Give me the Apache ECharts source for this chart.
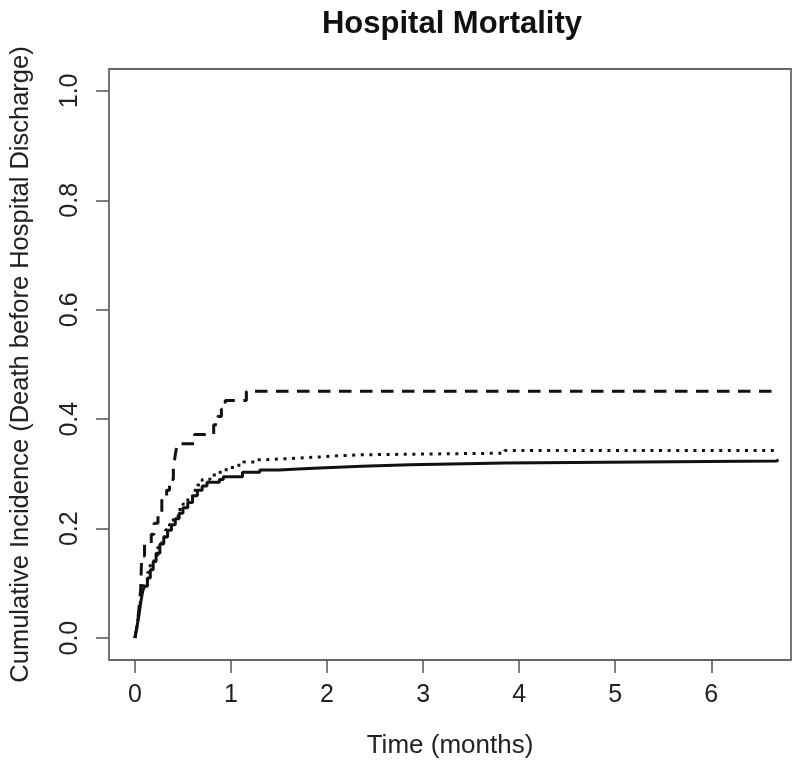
<!DOCTYPE html>
<html>
<head>
<meta charset="utf-8">
<script src="https://cdn.jsdelivr.net/npm/echarts@6/dist/echarts.min.js"></script>
<style>
html,body{margin:0;padding:0;background:#fff;}
#chart{width:800px;height:769px;}
</style>
</head>
<body>
<div id="chart"></div>
<script>
// Data (time in months, cumulative incidence)
var solidTime = [0, 0.02, 0.04, 0.06, 0.08, 0.10, 0.13, 0.16, 0.19, 0.22, 0.26, 0.30, 0.34, 0.38, 0.42, 0.46, 0.50, 0.55, 0.60, 0.65, 0.70, 0.75, 0.88, 0.92, 1.12, 1.30, 1.50, 1.70, 1.92, 2.36, 2.86, 3.85, 6.68, 6.70];
var solidCI   = [0, 0.020, 0.040, 0.065, 0.085, 0.095, 0.110, 0.125, 0.140, 0.155, 0.172, 0.185, 0.197, 0.207, 0.218, 0.228, 0.238, 0.248, 0.260, 0.270, 0.278, 0.285, 0.290, 0.295, 0.303, 0.307, 0.309, 0.311, 0.314, 0.317, 0.320, 0.3235, 0.326, 0.326];

var dottedTime = [0, 0.02, 0.04, 0.06, 0.08, 0.10, 0.13, 0.16, 0.20, 0.24, 0.28, 0.32, 0.36, 0.40, 0.45, 0.50, 0.55, 0.60, 0.65, 0.70, 0.78, 0.85, 0.95, 1.05, 1.13, 1.25, 1.35, 1.60, 1.92, 2.08, 2.36, 2.85, 3.85, 6.68, 6.70];
var dottedCI   = [0, 0.022, 0.045, 0.070, 0.090, 0.103, 0.120, 0.135, 0.152, 0.168, 0.185, 0.198, 0.208, 0.220, 0.235, 0.245, 0.255, 0.270, 0.280, 0.290, 0.298, 0.303, 0.312, 0.316, 0.322, 0.326, 0.328, 0.331, 0.333, 0.335, 0.336, 0.338, 0.343, 0.346, 0.346];

var dashedTime = [0, 0.02, 0.04, 0.06, 0.07, 0.10, 0.17, 0.20, 0.24, 0.28, 0.33, 0.36, 0.40, 0.42, 0.44, 0.62, 0.82, 0.86, 0.90, 0.94, 1.16, 6.70];
var dashedCI   = [0, 0.020, 0.050, 0.090, 0.150, 0.173, 0.190, 0.210, 0.230, 0.255, 0.270, 0.290, 0.310, 0.335, 0.355, 0.372, 0.390, 0.405, 0.418, 0.434, 0.451, 0.451];

var xTicks = [0, 1, 2, 3, 4, 5, 6];
var yTicks = [0, 0.2, 0.4, 0.6, 0.8, 1.0];

function pairs(xs, ys) {
  var out = [];
  for (var i = 0; i < xs.length; i++) out.push([xs[i], ys[i]]);
  return out;
}

var FONT = '"Liberation Sans", Arial, Helvetica, sans-serif';
var chart = echarts.init(document.getElementById('chart'), null, {renderer: 'canvas'});
chart.setOption({
  animation: false,
  backgroundColor: '#ffffff',
  title: {
    text: 'Hospital Mortality',
    left: 447,
    top: 4,
    textAlign: 'center',
    textStyle: {fontFamily: FONT, fontWeight: 'bold', fontSize: 31, color: '#111'}
  },
  grid: {
    left: 108, right: 9, top: 69, bottom: 109,
    show: true, borderColor: '#666', borderWidth: 1.8, backgroundColor: 'transparent'
  },
  xAxis: {
    type: 'value',
    min: -0.27, max: 6.83,
    name: 'Time (months)',
    nameLocation: 'middle',
    nameGap: 73,
    nameTextStyle: {fontFamily: FONT, fontSize: 26, color: '#222'},
    axisLine: {show: false, onZero: false},
    axisTick: {show: true, inside: false, length: 13, customValues: xTicks, lineStyle: {color: '#555', width: 1.5}},
    axisLabel: {show: true, customValues: xTicks, margin: 23, fontFamily: FONT, fontSize: 25, color: '#222',
      formatter: function (v) { return String(v); }},
    splitLine: {show: false}
  },
  yAxis: {
    type: 'value',
    min: -0.04, max: 1.04,
    name: 'Cumulative Incidence (Death before Hospital Discharge)',
    nameLocation: 'middle',
    nameRotate: 90,
    nameGap: 75,
    nameTextStyle: {fontFamily: FONT, fontSize: 25.5, color: '#222'},
    axisLine: {show: false, onZero: false},
    axisTick: {show: true, inside: false, length: 13, customValues: yTicks, lineStyle: {color: '#555', width: 1.5}},
    axisLabel: {show: true, customValues: yTicks, rotate: 90, margin: 26, fontFamily: FONT, fontSize: 25, color: '#222',
      formatter: function (v) { return v.toFixed(1); }},
    splitLine: {show: false}
  },
  series: [
    {
      name: 'solid', type: 'line', step: 'end', showSymbol: false, symbol: 'none',
      data: pairs(solidTime, solidCI),
      lineStyle: {color: '#111', width: 3, type: 'solid'}
    },
    {
      name: 'dotted', type: 'line', step: 'end', showSymbol: false, symbol: 'none',
      data: pairs(dottedTime, dottedCI),
      lineStyle: {color: '#111', width: 3, type: [3, 5.6], cap: 'butt'}
    },
    {
      name: 'dashed', type: 'line', step: 'end', showSymbol: false, symbol: 'none',
      data: pairs(dashedTime, dashedCI),
      lineStyle: {color: '#111', width: 3, type: [12.5, 8.5], cap: 'butt'}
    }
  ]
});
</script>
</body>
</html>
